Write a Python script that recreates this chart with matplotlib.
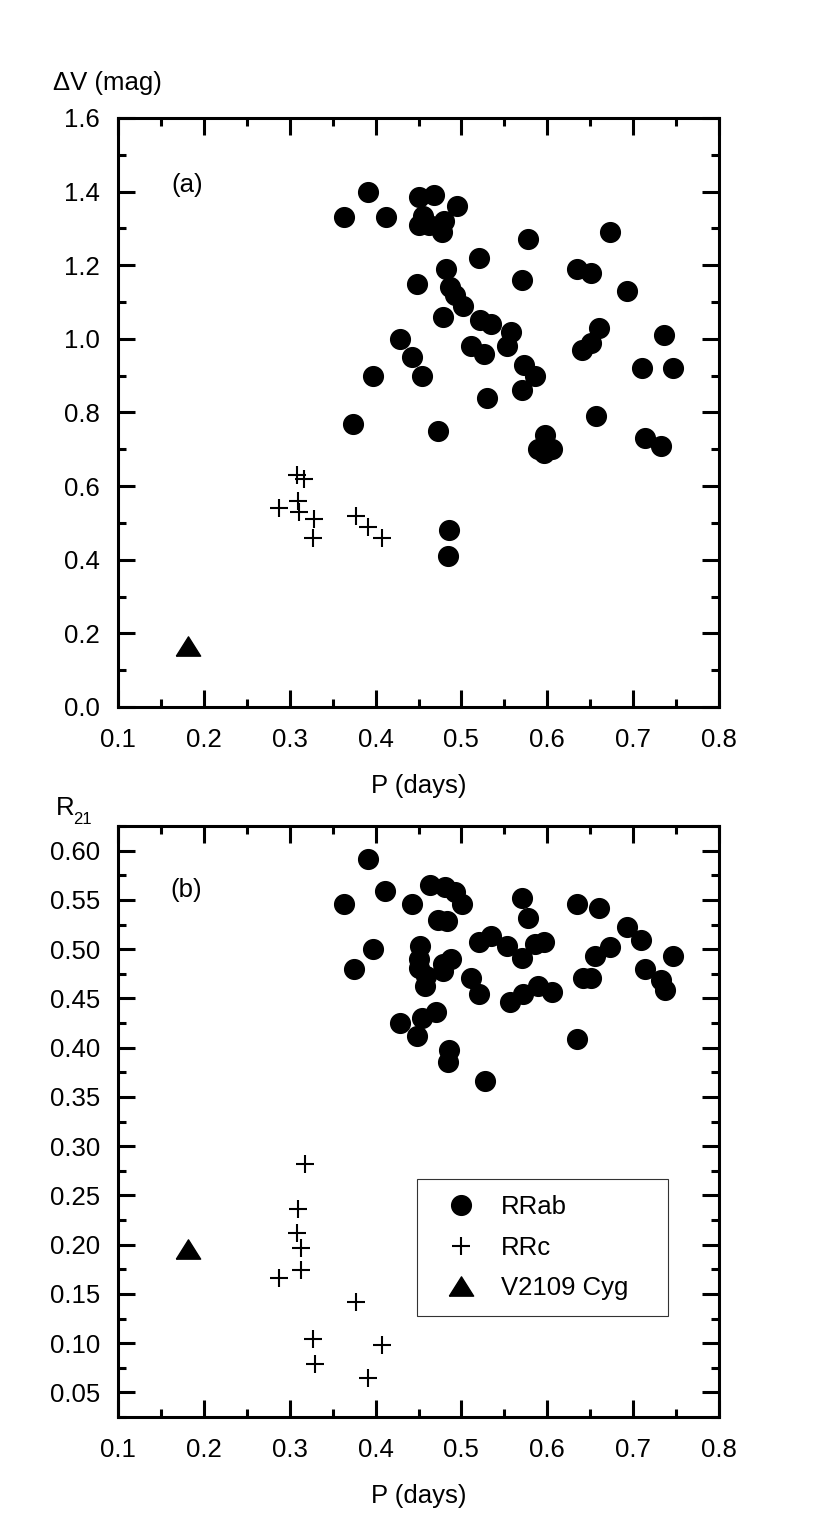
import numpy as np
import matplotlib
matplotlib.use('Agg')
import matplotlib.pyplot as plt
import matplotlib.ticker as mticker

plt.rcParams['font.family'] = ['Liberation Sans', 'DejaVu Sans']
plt.rcParams['font.size'] = 18.5

# ---- panel (a): amplitude vs period
p_ab_a = [0.363, 0.391, 0.412, 0.451, 0.468, 0.495, 0.450, 0.455, 0.462, 0.480,
          0.477, 0.578, 0.673, 0.521, 0.482, 0.635, 0.651, 0.448, 0.570, 0.487,
          0.493, 0.502, 0.693, 0.478, 0.522, 0.534, 0.558, 0.660, 0.736, 0.428,
          0.511, 0.526, 0.553, 0.641, 0.651, 0.442, 0.573, 0.586, 0.710, 0.747,
          0.397, 0.454, 0.530, 0.570, 0.374, 0.473, 0.657, 0.597, 0.589, 0.596,
          0.606, 0.714, 0.733, 0.486, 0.484]
dv_ab = [1.33, 1.40, 1.33, 1.385, 1.39, 1.36, 1.31, 1.335, 1.31, 1.32,
         1.29, 1.27, 1.29, 1.22, 1.19, 1.19, 1.18, 1.15, 1.16, 1.14,
         1.12, 1.09, 1.13, 1.06, 1.05, 1.04, 1.02, 1.03, 1.01, 1.00,
         0.98, 0.96, 0.98, 0.97, 0.99, 0.95, 0.93, 0.90, 0.92, 0.92,
         0.90, 0.90, 0.84, 0.86, 0.77, 0.75, 0.79, 0.74, 0.70, 0.69,
         0.70, 0.73, 0.71, 0.48, 0.41]
p_c_a = [0.308, 0.317, 0.310, 0.288, 0.311, 0.328, 0.327, 0.377, 0.391, 0.407]
dv_c = [0.63, 0.62, 0.56, 0.54, 0.53, 0.51, 0.46, 0.52, 0.49, 0.46]

# ---- panel (b): R21 vs period
p_ab_b = [0.391, 0.363, 0.411, 0.442, 0.463, 0.481, 0.493, 0.501, 0.473, 0.483,
          0.570, 0.578, 0.635, 0.660, 0.397, 0.375, 0.452, 0.450, 0.450, 0.459,
          0.457, 0.479, 0.488, 0.478, 0.521, 0.534, 0.553, 0.570, 0.586, 0.596,
          0.511, 0.521, 0.557, 0.572, 0.589, 0.606, 0.642, 0.651, 0.656, 0.673,
          0.693, 0.709, 0.747, 0.714, 0.732, 0.737, 0.428, 0.4535, 0.470, 0.448,
          0.486, 0.484, 0.527, 0.635]
r21_ab = [0.591, 0.546, 0.559, 0.546, 0.565, 0.563, 0.558, 0.546, 0.530, 0.529,
          0.552, 0.532, 0.546, 0.542, 0.500, 0.480, 0.503, 0.490, 0.481, 0.473,
          0.463, 0.485, 0.490, 0.478, 0.507, 0.513, 0.503, 0.491, 0.505, 0.507,
          0.471, 0.454, 0.446, 0.454, 0.463, 0.456, 0.471, 0.471, 0.493, 0.502,
          0.522, 0.509, 0.493, 0.480, 0.469, 0.458, 0.425, 0.430, 0.436, 0.412,
          0.398, 0.385, 0.366, 0.409]
p_c_b = [0.318, 0.310, 0.308, 0.313, 0.313, 0.288, 0.377, 0.327, 0.407, 0.330, 0.391]
r21_c = [0.282, 0.236, 0.212, 0.197, 0.174, 0.166, 0.142, 0.104, 0.098, 0.079, 0.065]

# V2109 Cyg
p_v = [0.182]
dv_v = [0.167]
r21_v = [0.196]

W, H = 830, 1536
fig = plt.figure(figsize=(W / 100, H / 100), dpi=100)

def px_axes(left, right, top, bottom):
    return fig.add_axes([left / W, 1 - bottom / H, (right - left) / W, (bottom - top) / H])

ax1 = px_axes(118, 719, 118, 707)
ax2 = px_axes(118, 719, 826, 1417)

tri = [(-1.26, -1), (1.26, -1), (0, 1), (-1.26, -1)]
kw_ab = dict(ls='none', marker='o', ms=14.2, color='black', mec='black')
kw_c = dict(ls='none', marker='+', ms=13.5, mew=1.5, color='black')
kw_v = dict(ls='none', marker=tri, ms=17.5, color='black', mec='black')

ax1.plot(p_ab_a, dv_ab, **kw_ab)
ax1.plot(p_c_a, dv_c, **kw_c)
ax1.plot(p_v, dv_v, **kw_v)

ax2.plot(p_ab_b, r21_ab, label='RRab', **kw_ab)
ax2.plot(p_c_b, r21_c, label='RRc', **kw_c)
ax2.plot(p_v, r21_v, label='V2109 Cyg', **kw_v)

for ax in (ax1, ax2):
    ax.set_xlim(0.1, 0.8)
    ax.xaxis.set_major_locator(mticker.MultipleLocator(0.1))
    ax.xaxis.set_minor_locator(mticker.MultipleLocator(0.05))
    ax.xaxis.set_major_formatter(mticker.FormatStrFormatter('%.1f'))
    for sp in ax.spines.values():
        sp.set_linewidth(2.2)
    ax.tick_params(which='both', direction='in', top=True, right=True, width=2.2)
    ax.tick_params(which='major', length=12.5)
    ax.tick_params(which='minor', length=6)
    ax.tick_params(axis='x', which='major', pad=15, labelsize=18.5)
    ax.tick_params(axis='y', which='major', pad=13, labelsize=18.5)
    ax.set_xlabel('P (days)', fontsize=18.5, labelpad=16)

ax1.set_ylim(0.0, 1.6)
ax1.yaxis.set_major_locator(mticker.MultipleLocator(0.2))
ax1.yaxis.set_minor_locator(mticker.MultipleLocator(0.1))
ax1.yaxis.set_major_formatter(mticker.FormatStrFormatter('%.1f'))

ax2.set_ylim(0.025, 0.625)
ax2.yaxis.set_major_locator(mticker.MultipleLocator(0.05))
ax2.yaxis.set_minor_locator(mticker.MultipleLocator(0.025))
ax2.yaxis.set_major_formatter(mticker.FormatStrFormatter('%.2f'))

ax1.text(0.115, 0.887, '(a)', transform=ax1.transAxes, ha='center', va='center', fontsize=18.5)
ax2.text(0.113, 0.892, '(b)', transform=ax2.transAxes, ha='center', va='center', fontsize=18.5)

fig.text(53 / W, 1 - 83 / H, '\u0394V (mag)', ha='left', va='center', fontsize=18.5)
fig.text(56 / W, 1 - 815 / H, 'R', ha='left', va='baseline', fontsize=18.5)
fig.text(73 / W, 1 - 824 / H, '21', ha='left', va='baseline', fontsize=12)

leg = ax2.legend(loc='upper left', bbox_to_anchor=(0.4975, 0.169, 0.4175, 0.2337),
                 mode='expand', numpoints=1, fontsize=18.5, frameon=True, fancybox=False,
                 borderpad=0.62, handlelength=2.2, handletextpad=0.45,
                 labelspacing=0.65, borderaxespad=0.0)
leg.get_frame().set_edgecolor('black')
leg.get_frame().set_linewidth(0.8)

fig.savefig('out.png', dpi=100, facecolor='white')
